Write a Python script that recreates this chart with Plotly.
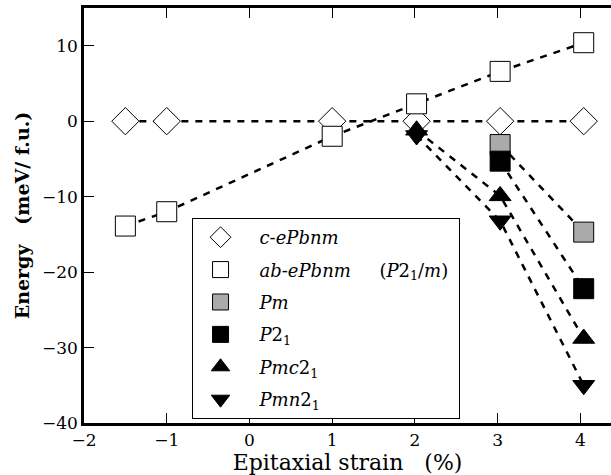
import plotly.graph_objects as go

# ---- data ----
c_x = [-1.5, -1.0, 1.0, 2.02, 3.03, 4.04]
c_y = [0, 0, 0, 0, 0, 0]
ab_x = [-1.5, -1.0, 1.0, 2.02, 3.03, 4.04]
ab_y = [-13.9, -12.0, -2.0, 2.3, 6.6, 10.4]
pm_x = [3.03, 4.04]
pm_y = [-3.1, -14.7]
p21_x = [3.03, 4.04]
p21_y = [-5.3, -22.2]
pmc_x = [2.02, 3.03, 4.04]
pmc_y = [-1.2, -9.9, -28.8]
pmn_x = [2.02, 3.03, 4.04]
pmn_y = [-1.9, -13.2, -35.0]

xticks = [-2, -1, 0, 1, 2, 3, 4]
yticks = [-40, -30, -20, -10, 0, 10]

NB = "\u00a0"
pre = NB * 2
names = [
    pre + "<i>c</i>-<i>ePbnm</i>",
    pre + "<i>ab</i>-<i>ePbnm</i>" + NB * 5 + "(<i>P</i>2<sub>1</sub>/<i>m</i>)" + NB,
    pre + "<i>Pm</i>",
    pre + "<i>P</i>2<sub>1</sub>",
    pre + "<i>Pmc</i>2<sub>1</sub>",
    pre + "<i>Pmn</i>2<sub>1</sub>",
]
series = [
    (c_x, c_y, "diamond", 21, "white"),
    (ab_x, ab_y, "square", 20, "white"),
    (pm_x, pm_y, "square", 20, "#aaaaaa"),
    (p21_x, p21_y, "square", 20, "black"),
    (pmc_x, pmc_y, "triangle-up", 19, "black"),
    (pmn_x, pmn_y, "triangle-down", 19, "black"),
]

fig = go.Figure()
for (x, y, sym, sz, col) in series:
    fig.add_trace(go.Scatter(x=x, y=y, mode="lines", showlegend=False,
                             line=dict(color="black", width=2.5, dash="7px,7px"),
                             hoverinfo="skip"))
for i, (x, y, sym, sz, col) in enumerate(series):
    fig.add_trace(go.Scatter(x=x, y=y, mode="markers", name=names[i],
                             legendgroup="g%d" % i,
                             marker=dict(symbol=sym, size=sz, color=col,
                                         line=dict(color="black", width=1))))

FONT = "DejaVu Serif, serif"
fig.update_layout(
    width=611, height=475,
    margin=dict(l=84, r=0, t=8, b=52),
    paper_bgcolor="white", plot_bgcolor="white",
    font=dict(family=FONT, size=17, color="black"),
    showlegend=True,
    legend=dict(x=0.205, y=0.494, xanchor="left", yanchor="top",
                bordercolor="black", borderwidth=1, bgcolor="white",
                traceorder="grouped", tracegroupgap=6, itemwidth=45,
                font=dict(family=FONT, size=18)),
    xaxis=dict(range=[-2, 4.37], tickvals=xticks,
               ticktext=[("\u2212%d" % -t) if t < 0 else str(t) for t in xticks],
               ticks="inside", ticklen=10, tickwidth=1, tickcolor="black",
               showline=True, linewidth=2.5, linecolor="black", mirror="ticks",
               showgrid=False, zeroline=False,
               title=dict(text="Epitaxial strain" + NB * 3 + "(%)",
                          font=dict(size=22), standoff=5)),
    yaxis=dict(range=[-40, 15], tickvals=yticks,
               ticktext=[("\u2212%d" % -t) if t < 0 else str(t) for t in yticks],
               ticks="inside", ticklen=10, tickwidth=1, tickcolor="black",
               showline=True, linewidth=2.5, linecolor="black", mirror=False,
               showgrid=False, zeroline=False,
               title=dict(text="<b>Energy" + NB * 3 + "(meV/ f.u.)</b>",
                          font=dict(size=19), standoff=8)),
    yaxis2=dict(range=[-40, 15], tickvals=yticks, overlaying="y", side="right",
                ticks="inside", ticklen=10, tickwidth=1, tickcolor="black",
                showticklabels=False, showline=False, showgrid=False, zeroline=False),
)
fig.write_html("out.html")
